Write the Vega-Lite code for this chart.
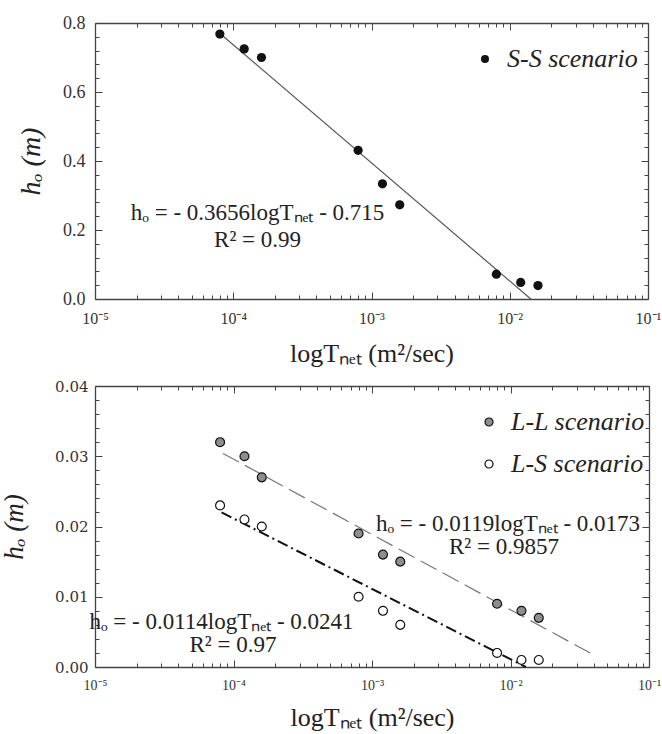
{
  "$schema": "https://vega.github.io/schema/vega-lite/v6.json",
  "padding": {"left": 0, "top": 14, "right": 3, "bottom": 5},
  "background": "white",
  "spacing": 13,
  "resolve": {"scale": {"fill": "independent"}, "legend": {"fill": "independent"}},
  "datasets": {
    "ss": [
      {"x": 8e-5, "y": 0.768, "series": "S-S scenario"},
      {"x": 1.2e-4, "y": 0.725, "series": "S-S scenario"},
      {"x": 1.6e-4, "y": 0.70, "series": "S-S scenario"},
      {"x": 8e-4, "y": 0.431, "series": "S-S scenario"},
      {"x": 1.2e-3, "y": 0.334, "series": "S-S scenario"},
      {"x": 1.6e-3, "y": 0.273, "series": "S-S scenario"},
      {"x": 8e-3, "y": 0.072, "series": "S-S scenario"},
      {"x": 1.2e-2, "y": 0.048, "series": "S-S scenario"},
      {"x": 1.6e-2, "y": 0.039, "series": "S-S scenario"}
    ],
    "fitSS": [
      {"x": 8.1e-5, "y": 0.768},
      {"x": 1.42e-2, "y": 0.0}
    ],
    "eqSS1": [
      {"x": 1.5e-4, "y": 0.249, "label": "hₒ = - 0.3656logTₙₑₜ - 0.715"}
    ],
    "eqSS2": [
      {"x": 1.5e-4, "y": 0.171, "label": "R² = 0.99"}
    ],
    "lpts": [
      {"x": 8e-5, "y": 0.032, "series": "L-L scenario"},
      {"x": 1.2e-4, "y": 0.030, "series": "L-L scenario"},
      {"x": 1.6e-4, "y": 0.027, "series": "L-L scenario"},
      {"x": 8e-4, "y": 0.019, "series": "L-L scenario"},
      {"x": 1.2e-3, "y": 0.016, "series": "L-L scenario"},
      {"x": 1.6e-3, "y": 0.015, "series": "L-L scenario"},
      {"x": 8e-3, "y": 0.009, "series": "L-L scenario"},
      {"x": 1.2e-2, "y": 0.008, "series": "L-L scenario"},
      {"x": 1.6e-2, "y": 0.007, "series": "L-L scenario"},
      {"x": 8e-5, "y": 0.023, "series": "L-S scenario"},
      {"x": 1.2e-4, "y": 0.021, "series": "L-S scenario"},
      {"x": 1.6e-4, "y": 0.020, "series": "L-S scenario"},
      {"x": 8e-4, "y": 0.010, "series": "L-S scenario"},
      {"x": 1.2e-3, "y": 0.008, "series": "L-S scenario"},
      {"x": 1.6e-3, "y": 0.006, "series": "L-S scenario"},
      {"x": 8e-3, "y": 0.002, "series": "L-S scenario"},
      {"x": 1.2e-2, "y": 0.001, "series": "L-S scenario"},
      {"x": 1.6e-2, "y": 0.001, "series": "L-S scenario"}
    ],
    "fitLL": [
      {"x": 8.4e-5, "y": 0.0304},
      {"x": 4.0e-2, "y": 0.0017}
    ],
    "fitLS": [
      {"x": 8.2e-5, "y": 0.022},
      {"x": 1.29e-2, "y": 0.0}
    ],
    "eqL": [
      {"x": 9.6e-3, "y": 0.0204, "label": "hₒ = - 0.0119logTₙₑₜ - 0.0173"},
      {"x": 8.97e-3, "y": 0.01708, "label": "R² = 0.9857"},
      {"x": 8.19e-5, "y": 0.0064, "label": "hₒ = - 0.0114logTₙₑₜ - 0.0241"},
      {"x": 9.92e-5, "y": 0.00313, "label": "R² = 0.97"}
    ]
  },
  "vconcat": [
    {
      "width": 553,
      "height": 276,
      "layer": [
        {
          "data": {"name": "fitSS"},
          "mark": {"type": "line", "color": "#555", "strokeWidth": 1.2},
          "encoding": {
            "x": {"field": "x", "type": "quantitative",
              "scale": {"type": "log", "domain": [1e-5, 0.1], "nice": false},
              "axis": {"orient": "bottom", "values": [1e-5, 1e-4, 0.001, 0.01, 0.1],
                "labelExpr": "'10' + ['⁻⁵','⁻⁴','⁻³','⁻²','⁻¹'][round(log(datum.value)/LN10)+5]",
                "tickSize": -7, "labelPadding": 18, "labelFontSize": 16, "labelFlush": false, "labelOverlap": false,
                "title": "logTₙₑₜ (m²/sec)", "titleFontSize": 26, "titleFontWeight": "normal", "titlePadding": 14}},
            "y": {"field": "y", "type": "quantitative",
              "scale": {"domain": [0, 0.8], "nice": false},
              "axis": {"orient": "left", "values": [0, 0.2, 0.4, 0.6, 0.8], "format": ".1f",
                "tickSize": -7, "labelPadding": 17, "labelFontSize": 18, "labelFlush": false, "labelOverlap": false,
                "title": "hₒ (m)", "titleFontSize": 28, "titleFontStyle": "italic", "titleFontWeight": "normal", "titlePadding": 17}}
          }
        },
        {
          "data": {"name": "ss"},
          "mark": {"type": "point", "shape": "circle", "filled": true, "size": 85, "opacity": 1},
          "encoding": {
            "x": {"field": "x", "type": "quantitative",
              "scale": {"type": "log", "domain": [1e-5, 0.1], "nice": false},
              "axis": {"orient": "bottom",
                "values": [2e-5,3e-5,4e-5,5e-5,6e-5,7e-5,8e-5,9e-5,2e-4,3e-4,4e-4,5e-4,6e-4,7e-4,8e-4,9e-4,0.002,0.003,0.004,0.005,0.006,0.007,0.008,0.009,0.02,0.03,0.04,0.05,0.06,0.07,0.08,0.09],
                "tickSize": -4, "labels": false, "domain": false, "title": null}},
            "y": {"field": "y", "type": "quantitative",
              "scale": {"domain": [0, 0.8], "nice": false},
              "axis": {"orient": "left",
                "values": [0.04,0.08,0.12,0.16,0.24,0.28,0.32,0.36,0.44,0.48,0.52,0.56,0.64,0.68,0.72,0.76],
                "tickSize": -4, "labels": false, "domain": false, "title": null}},
            "fill": {"field": "series", "type": "nominal",
              "scale": {"range": ["#111111"]},
              "legend": {"orient": "none", "legendX": 377, "legendY": 23, "title": null, "padding": 0,
                "labelFont": "Liberation Serif", "labelFontSize": 26, "labelFontStyle": "italic", "labelColor": "#222",
                "symbolType": "circle", "symbolSize": 64, "symbolStrokeWidth": 0, "labelOffset": 9}}
          }
        },
        {
          "data": {"name": "eqSS1"},
          "mark": {"type": "text", "font": "Liberation Serif", "fontSize": 23, "color": "#222", "align": "center", "baseline": "middle"},
          "encoding": {
            "x": {"field": "x", "type": "quantitative", "scale": {"type": "log", "domain": [1e-5, 0.1], "nice": false},
              "axis": {"orient": "top", "values": [1e-5, 1e-4, 0.001, 0.01, 0.1], "tickSize": -7, "labels": false, "title": null}},
            "y": {"field": "y", "type": "quantitative", "scale": {"domain": [0, 0.8], "nice": false},
              "axis": {"orient": "right", "values": [0, 0.2, 0.4, 0.6, 0.8], "tickSize": -7, "labels": false, "title": null}},
            "text": {"field": "label"}
          }
        },
        {
          "data": {"name": "eqSS2"},
          "mark": {"type": "text", "font": "Liberation Serif", "fontSize": 23, "color": "#222", "align": "center", "baseline": "middle"},
          "encoding": {
            "x": {"field": "x", "type": "quantitative", "scale": {"type": "log", "domain": [1e-5, 0.1], "nice": false},
              "axis": {"orient": "top",
                "values": [2e-5,3e-5,4e-5,5e-5,6e-5,7e-5,8e-5,9e-5,2e-4,3e-4,4e-4,5e-4,6e-4,7e-4,8e-4,9e-4,0.002,0.003,0.004,0.005,0.006,0.007,0.008,0.009,0.02,0.03,0.04,0.05,0.06,0.07,0.08,0.09],
                "tickSize": -4, "labels": false, "domain": false, "title": null}},
            "y": {"field": "y", "type": "quantitative", "scale": {"domain": [0, 0.8], "nice": false},
              "axis": {"orient": "right",
                "values": [0.04,0.08,0.12,0.16,0.24,0.28,0.32,0.36,0.44,0.48,0.52,0.56,0.64,0.68,0.72,0.76],
                "tickSize": -4, "labels": false, "domain": false, "title": null}},
            "text": {"field": "label"}
          }
        }
      ],
      "resolve": {"axis": {"x": "independent", "y": "independent"}}
    },
    {
      "width": 554,
      "height": 281,
      "layer": [
        {
          "data": {"name": "fitLL"},
          "mark": {"type": "line", "color": "#777", "strokeWidth": 1.2, "strokeDash": [18, 7]},
          "encoding": {
            "x": {"field": "x", "type": "quantitative",
              "scale": {"type": "log", "domain": [1e-5, 0.1], "nice": false},
              "axis": {"orient": "bottom", "values": [1e-5, 1e-4, 0.001, 0.01, 0.1],
                "labelExpr": "'10' + ['⁻⁵','⁻⁴','⁻³','⁻²','⁻¹'][round(log(datum.value)/LN10)+5]",
                "tickSize": -7, "labelPadding": 18, "labelFontSize": 14, "labelFlush": false, "labelOverlap": false,
                "title": "logTₙₑₜ (m²/sec)", "titleFontSize": 26, "titleFontWeight": "normal", "titlePadding": 12}},
            "y": {"field": "y", "type": "quantitative",
              "scale": {"domain": [0, 0.04], "nice": false},
              "axis": {"orient": "left", "values": [0, 0.01, 0.02, 0.03, 0.04], "format": ".2f",
                "tickSize": -7, "labelPadding": 14, "labelFont": "DejaVu Serif", "labelFontSize": 15, "labelFlush": false, "labelOverlap": false,
                "title": "hₒ (m)", "titleFontSize": 27, "titleFontStyle": "italic", "titleFontWeight": "normal", "titlePadding": 26}}
          }
        },
        {
          "data": {"name": "fitLS"},
          "mark": {"type": "line", "color": "#111", "strokeWidth": 2, "strokeDash": [11, 4, 2, 4]},
          "encoding": {
            "x": {"field": "x", "type": "quantitative",
              "scale": {"type": "log", "domain": [1e-5, 0.1], "nice": false},
              "axis": {"orient": "bottom",
                "values": [2e-5,3e-5,4e-5,5e-5,6e-5,7e-5,8e-5,9e-5,2e-4,3e-4,4e-4,5e-4,6e-4,7e-4,8e-4,9e-4,0.002,0.003,0.004,0.005,0.006,0.007,0.008,0.009,0.02,0.03,0.04,0.05,0.06,0.07,0.08,0.09],
                "tickSize": -4, "labels": false, "domain": false, "title": null}},
            "y": {"field": "y", "type": "quantitative",
              "scale": {"domain": [0, 0.04], "nice": false},
              "axis": {"orient": "left",
                "values": [0.002,0.004,0.006,0.008,0.012,0.014,0.016,0.018,0.022,0.024,0.026,0.028,0.032,0.034,0.036,0.038],
                "tickSize": -4, "labels": false, "domain": false, "title": null}}
          }
        },
        {
          "data": {"name": "lpts"},
          "mark": {"type": "point", "shape": "circle", "filled": true, "size": 80, "opacity": 1, "stroke": "#111", "strokeWidth": 1.2},
          "encoding": {
            "x": {"field": "x", "type": "quantitative", "scale": {"type": "log", "domain": [1e-5, 0.1], "nice": false},
              "axis": {"orient": "top", "values": [1e-5, 1e-4, 0.001, 0.01, 0.1], "tickSize": -7, "labels": false, "title": null}},
            "y": {"field": "y", "type": "quantitative", "scale": {"domain": [0, 0.04], "nice": false},
              "axis": {"orient": "right", "values": [0, 0.01, 0.02, 0.03, 0.04], "tickSize": -7, "labels": false, "title": null}},
            "fill": {"field": "series", "type": "nominal",
              "scale": {"domain": ["L-L scenario", "L-S scenario"], "range": ["#8e8e8e", "#ffffff"]},
              "legend": {"orient": "none", "legendX": 381, "legendY": 23, "title": null, "padding": 0,
                "labelFont": "Liberation Serif", "labelFontSize": 26, "labelFontStyle": "italic", "labelColor": "#222",
                "symbolType": "circle", "symbolSize": 64, "symbolStrokeColor": "#111", "symbolStrokeWidth": 1.2, "labelOffset": 9, "rowPadding": 16}}
          }
        },
        {
          "data": {"name": "eqL"},
          "mark": {"type": "text", "font": "Liberation Serif", "fontSize": 23, "color": "#222", "align": "center", "baseline": "middle"},
          "encoding": {
            "x": {"field": "x", "type": "quantitative", "scale": {"type": "log", "domain": [1e-5, 0.1], "nice": false},
              "axis": {"orient": "top",
                "values": [2e-5,3e-5,4e-5,5e-5,6e-5,7e-5,8e-5,9e-5,2e-4,3e-4,4e-4,5e-4,6e-4,7e-4,8e-4,9e-4,0.002,0.003,0.004,0.005,0.006,0.007,0.008,0.009,0.02,0.03,0.04,0.05,0.06,0.07,0.08,0.09],
                "tickSize": -4, "labels": false, "domain": false, "title": null}},
            "y": {"field": "y", "type": "quantitative", "scale": {"domain": [0, 0.04], "nice": false},
              "axis": {"orient": "right",
                "values": [0.002,0.004,0.006,0.008,0.012,0.014,0.016,0.018,0.022,0.024,0.026,0.028,0.032,0.034,0.036,0.038],
                "tickSize": -4, "labels": false, "domain": false, "title": null}},
            "text": {"field": "label"}
          }
        }
      ],
      "resolve": {"axis": {"x": "independent", "y": "independent"}}
    }
  ],
  "config": {
    "view": {"stroke": null},
    "axis": {
      "grid": false,
      "domainColor": "#444", "domainWidth": 1.3,
      "tickColor": "#444", "tickWidth": 1,
      "labelFont": "Liberation Serif", "labelColor": "#333",
      "titleFont": "Liberation Serif", "titleColor": "#222"
    }
  }
}
